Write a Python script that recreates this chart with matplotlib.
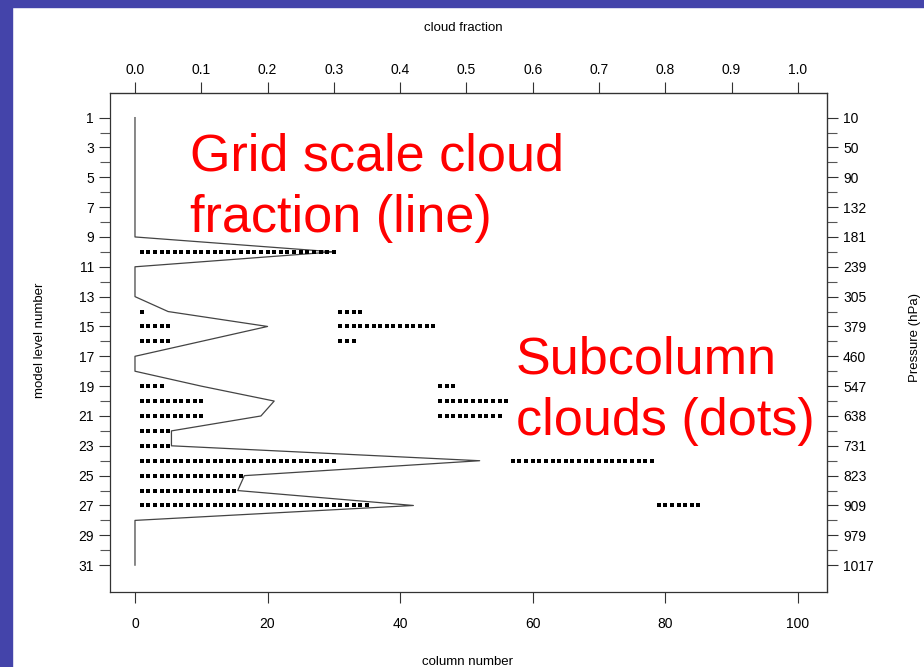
import matplotlib.pyplot as plt
import numpy as np

# grid-scale cloud fraction per model level (line)
levels = np.arange(1, 32)
line_frac = [0, 0, 0, 0, 0, 0, 0, 0, 0, 0.30, 0, 0, 0, 0.05, 0.20, 0.10,
             0, 0, 0.10, 0.21, 0.19, 0.055, 0.055, 0.52, 0.165, 0.155, 0.42,
             0, 0, 0, 0]

# subcolumn clouds (dots): runs of cloudy columns on a level
dot_level = [10, 14, 14, 15, 15, 16, 16, 19, 19, 20, 20, 21, 21, 22, 23, 24, 24, 25, 26, 27, 27]
dot_start = [1, 1, 31, 1, 31, 1, 31, 1, 46, 1, 46, 1, 46, 1, 1, 1, 57, 1, 1, 1, 79]
dot_end = [30, 1, 34, 5, 45, 5, 33, 4, 48, 10, 56, 10, 55, 5, 5, 30, 78, 16, 15, 35, 85]

left_ticks = list(range(1, 32, 2))
pressure_labels = ["10", "50", "90", "132", "181", "239", "305", "379", "460",
                   "547", "638", "731", "823", "909", "979", "1017"]
frac_ticks = [0.0, 0.1, 0.2, 0.3, 0.4, 0.5, 0.6, 0.7, 0.8, 0.9, 1.0]
col_ticks = [0, 20, 40, 60, 80, 100]

plt.rcParams['font.family'] = ['Liberation Sans', 'DejaVu Sans']

W, H = 924, 667
fig = plt.figure(figsize=(W / 100, H / 100), dpi=100)
fig.patch.set_facecolor('white')

# blue slide border
fig.patches.append(plt.Rectangle((0, 0), 12 / W, 1, transform=fig.transFigure,
                                 color='#4444aa', zorder=0))
fig.patches.append(plt.Rectangle((0, 1 - 7 / H), 1, 7 / H, transform=fig.transFigure,
                                 color='#4444aa', zorder=0))

ax = fig.add_axes([110 / W, (H - 592) / H, (827 - 110) / W, (592 - 93) / H])

xs, ys = [], []
for lev, a, b in zip(dot_level, dot_start, dot_end):
    cols = np.arange(a, b + 1)
    xs.extend(cols)
    ys.extend([lev] * len(cols))
ax.plot(xs, ys, 's', color='black', markersize=3.4, markeredgewidth=0, zorder=3)

ax.plot(np.array(line_frac) * 100, levels, '-', color='#444444', linewidth=0.9, zorder=2)

ax.set_xlim(-3.77, 104.4)
ax.set_ylim(32.8, -0.65)

ax.set_yticks(left_ticks)
ax.set_yticks(range(1, 32), minor=True)
ax.set_xticks(col_ticks)
ax.tick_params(labelsize=10, length=8, width=0.8, color='#333333')
ax.tick_params(which='minor', length=7, width=0.8, color='#555555')
ax.tick_params(axis='x', pad=10)
for s in ax.spines.values():
    s.set_linewidth(0.9)
    s.set_color('#333333')

top = ax.secondary_xaxis('top', functions=(lambda x: x / 100, lambda x: x * 100))
top.set_xticks(frac_ticks)
top.set_xticklabels([f"{t:.1f}" for t in frac_ticks])
top.tick_params(labelsize=10, length=8, width=0.8, color='#333333')

right = ax.secondary_yaxis('right')
right.set_yticks(left_ticks)
right.set_yticklabels(pressure_labels)
right.set_yticks(range(2, 31, 2), minor=True)
right.tick_params(labelsize=10, length=8, width=0.8, color='#333333')
right.tick_params(which='minor', length=7, width=0.8, color='#555555')

fig.text(463 / W, 1 - 28 / H, "cloud fraction", fontsize=9.5, ha='center', va='center')
fig.text(467 / W, 1 - 662 / H, "column number", fontsize=9.5, ha='center', va='center')
fig.text(40 / W, 1 - 340 / H, "model level number", fontsize=9.5, rotation=90,
         ha='center', va='center')
fig.text(915 / W, 1 - 337 / H, "Pressure (hPa)", fontsize=9.5, rotation=90,
         ha='center', va='center')

fig.text(190 / W, 1 - 232 / H, "Grid scale cloud\nfraction (line)", fontsize=37.5,
         color='#ff0000', ha='left', va='baseline', linespacing=1.33)
fig.text(516 / W, 1 - 435 / H, "Subcolumn\nclouds (dots)", fontsize=37.5,
         color='#ff0000', ha='left', va='baseline', linespacing=1.33)

fig.savefig("out.png", dpi=100)
